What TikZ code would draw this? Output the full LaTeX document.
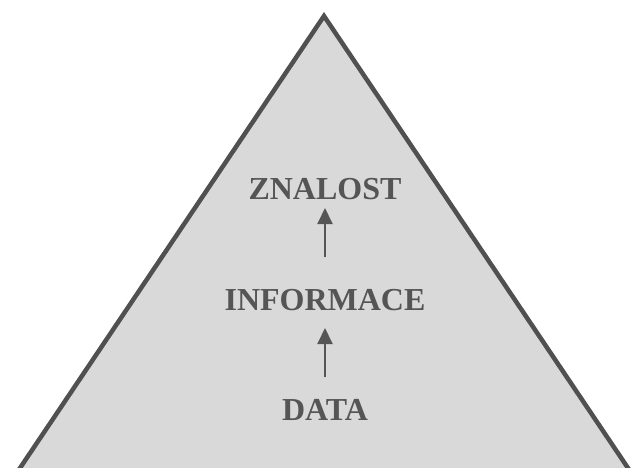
\documentclass[tikz,border=0pt]{standalone}
\usepackage{fontspec}
\setmainfont{Liberation Serif}
\usetikzlibrary{arrows.meta}
\definecolor{pyrfill}{HTML}{D9D9D9}
\definecolor{pyredge}{HTML}{505050}
\definecolor{pyrtext}{HTML}{555555}
\tikzset{
  level/.style={font=\bfseries\fontsize{32}{35}\selectfont, text=pyrtext, inner sep=0pt, anchor=base},
  uparrow/.style={draw=pyrtext, line width=2pt, -{Triangle[length=16pt,width=15pt]}, shorten >=0pt}
}
\begin{document}
\begin{tikzpicture}[x=1pt,y=-1pt]
  \useasboundingbox (0,0) rectangle (635,468);
  \begin{scope}
    \clip (0,0) rectangle (635,468);
    % the pyramid
    \draw[fill=pyrfill, draw=pyredge, line width=4.5pt, line join=miter]
      (324,16) -- (632,474) -- (16,474) -- cycle;
  \end{scope}
  % levels, bottom to top
  \node[level] (data) at (325,420) {DATA};
  \node[level] (info) at (325,310) {INFORMACE};
  \node[level] (know) at (325,200) {ZNALOST};
  % arrows between levels
  \coordinate (a1s) at (325,377);
  \coordinate (a1e) at (325,328);
  \coordinate (a2s) at (325,257);
  \coordinate (a2e) at (325,208);
  \draw[uparrow] (a1s) -- (a1e);
  \draw[uparrow] (a2s) -- (a2e);
\end{tikzpicture}
\end{document}
